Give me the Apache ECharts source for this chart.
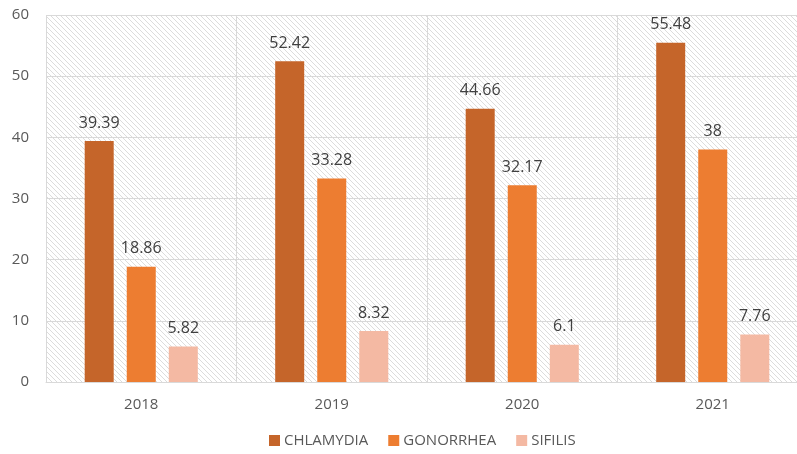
<!DOCTYPE html>
<html><head><meta charset="utf-8">
<script src="https://cdn.jsdelivr.net/npm/echarts@6/dist/echarts.min.js"></script>
<style>html,body{margin:0;padding:0;background:#fff}#c{width:797px;height:454px}</style>
</head><body><div id="c"></div>
<script>
const categories = ['2018','2019','2020','2021'];
const chlamydia = [39.39, 52.42, 44.66, 55.48];
const gonorrhea = [18.86, 33.28, 32.17, 38];
const sifilis = [5.82, 8.32, 6.1, 7.76];
const seriesNames = ['CHLAMYDIA','GONORRHEA','SIFILIS'];

function makePattern(){
  const s = 5;
  const c = document.createElement('canvas');
  c.width = s; c.height = s;
  const g = c.getContext('2d');
  g.fillStyle = '#ffffff'; g.fillRect(0,0,s,s);
  g.strokeStyle = '#dcdcdc'; g.lineWidth = 1;
  g.beginPath();
  g.moveTo(-1,-1); g.lineTo(s+1,s+1);
  g.moveTo(-1,s-1); g.lineTo(1,s+1);
  g.moveTo(s-1,-1); g.lineTo(s+1,1);
  g.stroke();
  return {image: c, repeat: 'repeat'};
}

const font = '"Open Sans", "Noto Sans", sans-serif';
const labelCfg = {show:true, position:'top', distance:10, color:'#404040', fontSize:16, fontFamily:font};
const chart = echarts.init(document.getElementById('c'), null, {renderer:'canvas'});
chart.setOption({
  animation:false,
  grid:{left:46, width:762, top:15, bottom:72, show:true, backgroundColor:makePattern(), borderWidth:0,
    containLabel:false, outerBoundsMode:'none'},
  legend:{top:428, left:264, itemWidth:11, itemHeight:11, itemGap:20, icon:'rect',
    textStyle:{color:'#595959', fontSize:15, fontFamily:font, padding:[0,0,0,-1]}, data:seriesNames},
  xAxis:{type:'category', data:categories,
    axisLine:{lineStyle:{color:'#d9d9d9'}}, axisTick:{show:false},
    axisLabel:{color:'#595959', fontSize:15, fontFamily:font, margin:15},
    splitLine:{show:true, lineStyle:{color:'#d9d9d9'}}},
  yAxis:{type:'value', min:0, max:60, interval:10,
    axisLine:{show:false}, axisTick:{show:false},
    axisLabel:{color:'#595959', fontSize:15, fontFamily:font, margin:17},
    splitLine:{lineStyle:{color:'#d9d9d9'}}},
  series:[
    {name:seriesNames[0], type:'bar', data:chlamydia, barWidth:29, barGap:'45%', itemStyle:{color:'#C5652A'}, label:labelCfg},
    {name:seriesNames[1], type:'bar', data:gonorrhea, barWidth:29, barGap:'45%', itemStyle:{color:'#ED7D31'}, label:labelCfg},
    {name:seriesNames[2], type:'bar', data:sifilis, barWidth:29, barGap:'45%', itemStyle:{color:'#F4B9A3'}, label:labelCfg}
  ]
});
</script></body></html>
